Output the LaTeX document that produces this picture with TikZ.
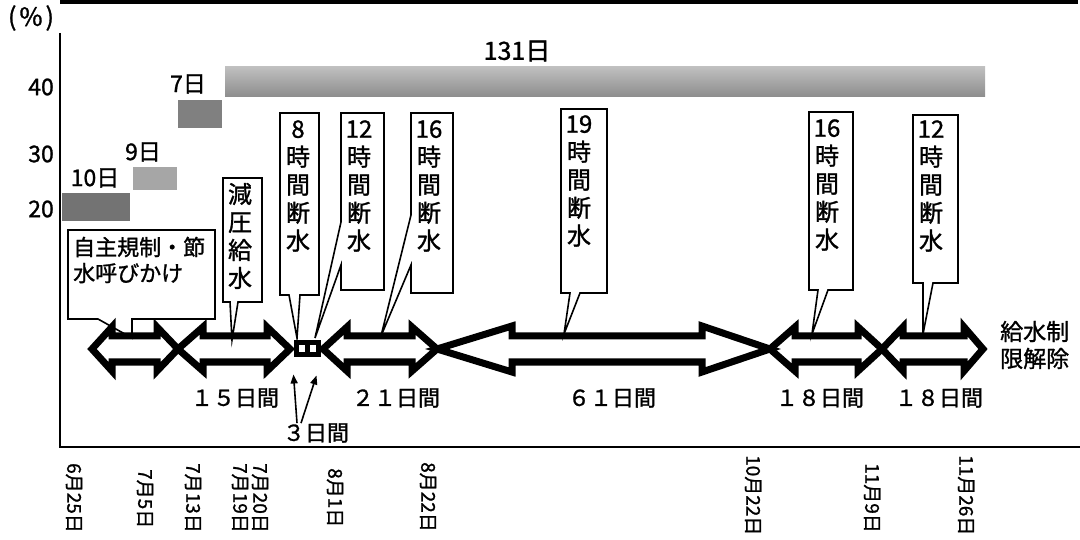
\documentclass[tikz,border=0pt]{standalone}
\usepackage{fontspec}
\setmainfont{Noto Sans CJK JP}[FakeBold=1.2]
\usetikzlibrary{arrows.meta}
% x0 x1 headL headR H S
\newcommand\DblArr[6]{%
  \draw[dblarrow] (#1,349) -- ({#1+#3},{349-#5}) -- ({#1+#3},{349-#6}) -- ({#2-#4},{349-#6}) -- ({#2-#4},{349-#5}) -- (#2,349) -- ({#2-#4},{349+#5}) -- ({#2-#4},{349+#6}) -- ({#1+#3},{349+#6}) -- ({#1+#3},{349+#5}) -- cycle;}
\begin{document}
\begin{tikzpicture}[x=1pt,y=-1pt,
  axisline/.style={line width=2pt},
  callout/.style={draw, line width=1.6pt, line join=miter, fill=white},
  dblarrow/.style={draw, line width=7pt, line join=miter, miter limit=20},
  vtext/.style={font=\fontsize{24}{28}\selectfont, align=center, inner sep=0pt},
  lbl/.style={font=\fontsize{23}{25}\selectfont, inner sep=0pt},
  barlbl/.style={font=\fontsize{23}{25}\selectfont, inner sep=0pt},
  dur/.style={font=\fontsize{22}{24}\selectfont, inner sep=0pt},
  datelbl/.style={font=\fontsize{19}{20}\selectfont, rotate=-90, anchor=west, inner sep=0pt},
  smallbox/.style={draw, line width=5pt, minimum height=12pt, inner sep=0pt},
  smallarr/.style={line width=1.6pt, -{Triangle[length=9pt,width=7pt]}},
]
\useasboundingbox (0,0) rectangle (1080,540);
% frame
\draw[line width=4pt] (60,2.5) -- (1078,2.5);
\draw[axisline] (60,33) -- (60,447) -- (1080,447);
% axis labels
\node[font=\fontsize{25}{27}\selectfont, inner sep=0pt] (pct) at (31,18) {(\hspace{3pt}\%\hspace{3pt})};
\node[lbl, anchor=east] (y40) at (54,87) {40};
\node[lbl, anchor=east] (y30) at (54,154) {30};
\node[lbl, anchor=east] (y20) at (54,209) {20};
% bars
\fill[black!55] (62,193) rectangle (130,221);
\fill[black!35] (133,167) rectangle (177,190);
\fill[black!50] (178,100) rectangle (222,128);
\shade[top color=black!25, bottom color=black!45] (225,67) rectangle (985,97);
\node[barlbl] (d10) at (95,178) {10日};
\node[barlbl] (d9) at (143,152) {9日};
\node[barlbl] (d7) at (188,84) {7日};
\node[font=\fontsize{25}{27}\selectfont, inner sep=0pt] (d131) at (517,51) {131日};
% callouts
\draw[callout] (68,230) -- (215,230) -- (215,319) -- (132,319) -- (132,338) -- (98,319) -- (68,319) -- cycle;
\node[font=\fontsize{22}{26}\selectfont, align=left, inner sep=0pt, anchor=west] (c1t) at (73,260) {自主規制・節\\水呼びかけ};
\draw[callout] (223,178) -- (262,178) -- (262,302) -- (238,302) -- (232,340) -- (230,302) -- (223,302) -- cycle;
\node[vtext] (c2t) at (240,236) {減\\圧\\給\\水};
\draw[callout] (280,113) -- (319,113) -- (319,295) -- (300,295) -- (297,338) -- (289,295) -- (280,295) -- cycle;
\node[vtext] (c3t) at (298,186) {8\\時\\間\\断\\水};
\draw[callout] (341,113) -- (384,113) -- (384,290) -- (341,290) -- (341,265) -- (315,338) -- (341,222) -- cycle;
\node[vtext] (c4t) at (359,186) {12\\時\\間\\断\\水};
\draw[callout] (411,113) -- (453,113) -- (453,293) -- (411,293) -- (411,265) -- (381,336) -- (411,215) -- cycle;
\node[vtext] (c5t) at (429,186) {16\\時\\間\\断\\水};
\draw[callout] (561,109) -- (607,109) -- (607,293) -- (580,293) -- (564,334) -- (570,293) -- (561,293) -- cycle;
\node[vtext] (c6t) at (579,181) {19\\時\\間\\断\\水};
\draw[callout] (809,112) -- (853,112) -- (853,290) -- (828,290) -- (812,334) -- (818,290) -- (809,290) -- cycle;
\node[vtext] (c7t) at (827,185) {16\\時\\間\\断\\水};
\draw[callout] (913,115) -- (958,115) -- (958,283) -- (933,283) -- (923,334) -- (923,283) -- (913,283) -- cycle;
\node[vtext] (c8t) at (931,186) {12\\時\\間\\断\\水};
% double arrows
\DblArr{92}{178}{20}{21}{22}{13}
\DblArr{178}{290}{25}{23}{22}{13}
\DblArr{323}{437}{24}{25}{22}{13}
\DblArr{437}{770}{75}{68}{23}{13}
\DblArr{770}{882}{25}{24}{22}{13}
\DblArr{882}{983}{21}{19}{22}{13}
% small boxes (3 days)
\node[smallbox, minimum width=11pt] (sb1) at (301.5,349) {};
\node[smallbox, minimum width=11pt] (sb2) at (312.5,349) {};
% durations
\node[dur] (p15) at (235,398) {１５日間};
\node[dur] (p21) at (396,398) {２１日間};
\node[dur] (p61) at (612,398) {６１日間};
\node[dur] (p18a) at (820,398) {１８日間};
\node[dur] (p18b) at (939,398) {１８日間};
\node[dur] (t3) at (316,433) {３日間};
\draw[smallarr] ([xshift=-19pt]t3.north) -- ([xshift=-8pt,yshift=-17pt]sb1.south);
\draw[smallarr] ([xshift=-15pt]t3.north) -- ([xshift=4pt,yshift=-18pt]sb2.south);
% end label
\node[font=\fontsize{23}{27}\selectfont, align=left, inner sep=0pt, anchor=west] (endl) at (1000,345) {給水制\\限解除};
% dates
\node[datelbl] (dt1) at (74,463) {6月25日};
\node[datelbl] (dt2) at (145,469) {7月5日};
\node[datelbl] (dt3) at (193,463) {7月13日};
\node[datelbl] (dt4) at (240,463) {7月19日};
\node[datelbl] (dt5) at (260,463) {7月20日};
\node[datelbl] (dt6) at (335,468) {8月1日};
\node[datelbl] (dt7) at (428,462) {8月22日};
\node[datelbl] (dt8) at (753,455) {10月22日};
\node[datelbl] (dt9) at (872,463) {11月9日};
\node[datelbl] (dt10) at (966,455) {11月26日};
\end{tikzpicture}
\end{document}
